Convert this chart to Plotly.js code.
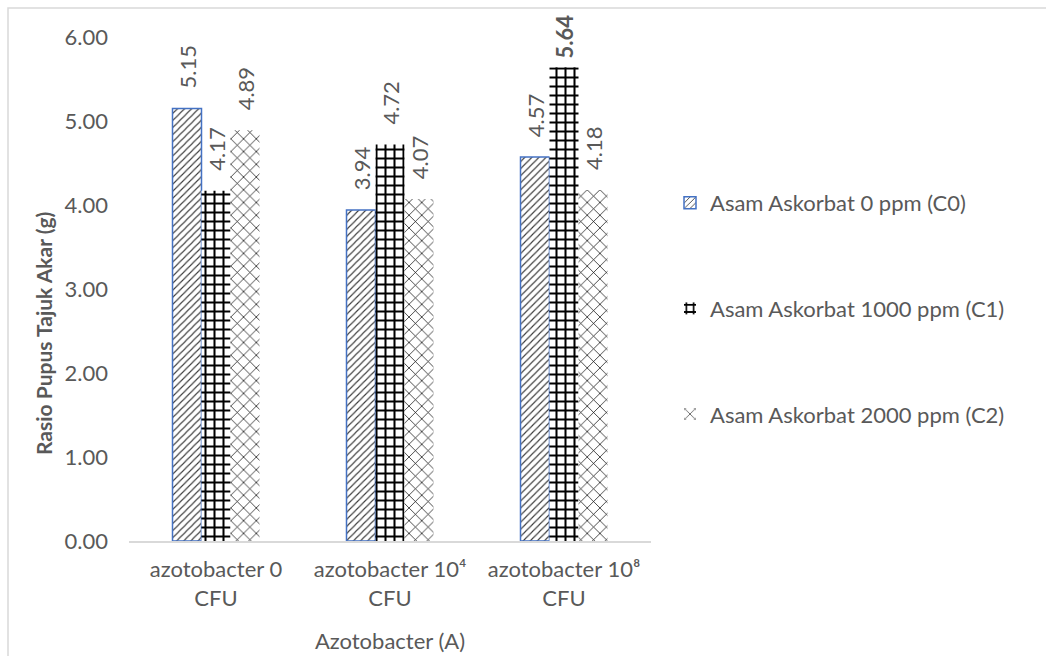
<!DOCTYPE html>
<html>
<head>
<meta charset="utf-8">
<script src="https://cdn.plot.ly/plotly-3.0.1.min.js"></script>
<style>
  html, body { margin: 0; padding: 0; background: #ffffff; }
  #chart { width: 1046px; height: 656px; }
</style>
</head>
<body>
<div id="chart"></div>
<script>
// Categories on the x axis
const categories = [
  "azotobacter 0<br>CFU",
  "azotobacter 10\u2074<br>CFU",
  "azotobacter 10\u2078<br>CFU"
];

// Series names
const seriesNames = [
  "Asam Askorbat 0 ppm (C0)",
  "Asam Askorbat 1000 ppm (C1)",
  "Asam Askorbat 2000 ppm (C2)"
];

// Values per series (one per category)
const valuesC0 = [5.15, 3.94, 4.57];
const valuesC1 = [4.17, 4.72, 5.64];
const valuesC2 = [4.89, 4.07, 4.18];

// Which data labels are emphasised in bold
const boldC1 = [false, false, true];

const yTicks = [0, 1, 2, 3, 4, 5, 6];

const FONT = "Lato, 'Open Sans', sans-serif";
const TXT = "#595959";
const GAP = "\u00a0\u00a0\u00a0"; // spacing between bar top and its rotated label

function labels(vals, bold) {
  return vals.map((v, i) => {
    const s = v.toFixed(2);
    return (bold && bold[i]) ? "\u00a0<b>" + s + "</b>" : GAP + s;
  });
}

const common = {
  type: "bar",
  x: categories,
  textposition: "outside",
  textangle: -90,
  constraintext: "none",
  cliponaxis: false,
  outsidetextfont: { family: FONT, size: 22, color: TXT },
  hoverinfo: "skip"
};

const traces = [
  Object.assign({}, common, {
    name: seriesNames[0],
    y: valuesC0,
    text: labels(valuesC0),
    legendgroup: "c0",
    marker: {
      color: "#ffffff",
      line: { color: "#4472C4", width: 1.5 },
      pattern: { shape: "/", fgcolor: "#3a3a3a", bgcolor: "#ffffff", size: 5, solidity: 0.22 }
    }
  }),
  Object.assign({}, common, {
    name: seriesNames[1],
    y: valuesC1,
    text: labels(valuesC1, boldC1),
    legendgroup: "c1",
    marker: {
      color: "#ffffff",
      line: { color: "#000000", width: 0 },
      pattern: { shape: "+", fgcolor: "#000000", bgcolor: "#ffffff", size: 9, solidity: 0.4 }
    }
  }),
  Object.assign({}, common, {
    name: seriesNames[2],
    y: valuesC2,
    text: labels(valuesC2),
    legendgroup: "c2",
    marker: {
      color: "#ffffff",
      line: { color: "#000000", width: 0 },
      pattern: { shape: "x", fgcolor: "#000000", bgcolor: "#ffffff", size: 9, solidity: 0.15 }
    }
  })
];

// plot area in pixels: x 129..651, y 37..541
const L = 129, R = 651, T = 37, B = 541;
const W = R - L, H = B - T;

const layout = {
  width: 1046,
  height: 656,
  margin: { l: L, r: 1046 - R, t: T, b: 656 - B, pad: 0 },
  paper_bgcolor: "#ffffff",
  plot_bgcolor: "#ffffff",
  font: { family: FONT, size: 22, color: TXT },
  barmode: "group",
  bargap: 0.5,
  bargroupgap: 0,
  showlegend: true,
  legend: {
    x: (670 - L) / W,
    y: (B - 182) / H,
    xanchor: "left",
    yanchor: "top",
    font: { family: FONT, size: 22, color: TXT },
    tracegroupgap: 74,
    itemwidth: 30,
    bgcolor: "rgba(0,0,0,0)"
  },
  xaxis: {
    showline: true,
    linecolor: "#d9d9d9",
    linewidth: 1.5,
    ticks: "",
    showgrid: false,
    zeroline: false,
    tickfont: { family: FONT, size: 22, color: TXT },
    ticklabelstandoff: 8,
    title: { text: "Azotobacter (A)", font: { family: FONT, size: 22, color: TXT }, standoff: 24 }
  },
  yaxis: {
    range: [0, 6],
    tickvals: yTicks,
    tickformat: ".2f",
    showline: false,
    ticks: "",
    showgrid: false,
    zeroline: false,
    tickfont: { family: FONT, size: 22, color: TXT },
    ticklabelstandoff: 20
  },
  annotations: [{
    text: "<b>Rasio Pupus Tajuk Akar (g)</b>",
    xref: "paper", yref: "paper",
    x: (43 - L) / W, y: (B - 334) / H,
    xanchor: "center", yanchor: "middle",
    textangle: -90,
    showarrow: false,
    font: { family: FONT, size: 21, color: TXT }
  }],
  shapes: [{
    type: "rect",
    xref: "paper", yref: "paper",
    x0: (8 - L) / W, x1: (1060 - L) / W,
    y0: (B - 670) / H, y1: (B - 8) / H,
    line: { color: "#d9d9d9", width: 1.5 },
    fillcolor: "rgba(0,0,0,0)",
    layer: "below"
  }]
};

Plotly.newPlot("chart", traces, layout, { staticPlot: true, displayModeBar: false });
</script>
</body>
</html>
